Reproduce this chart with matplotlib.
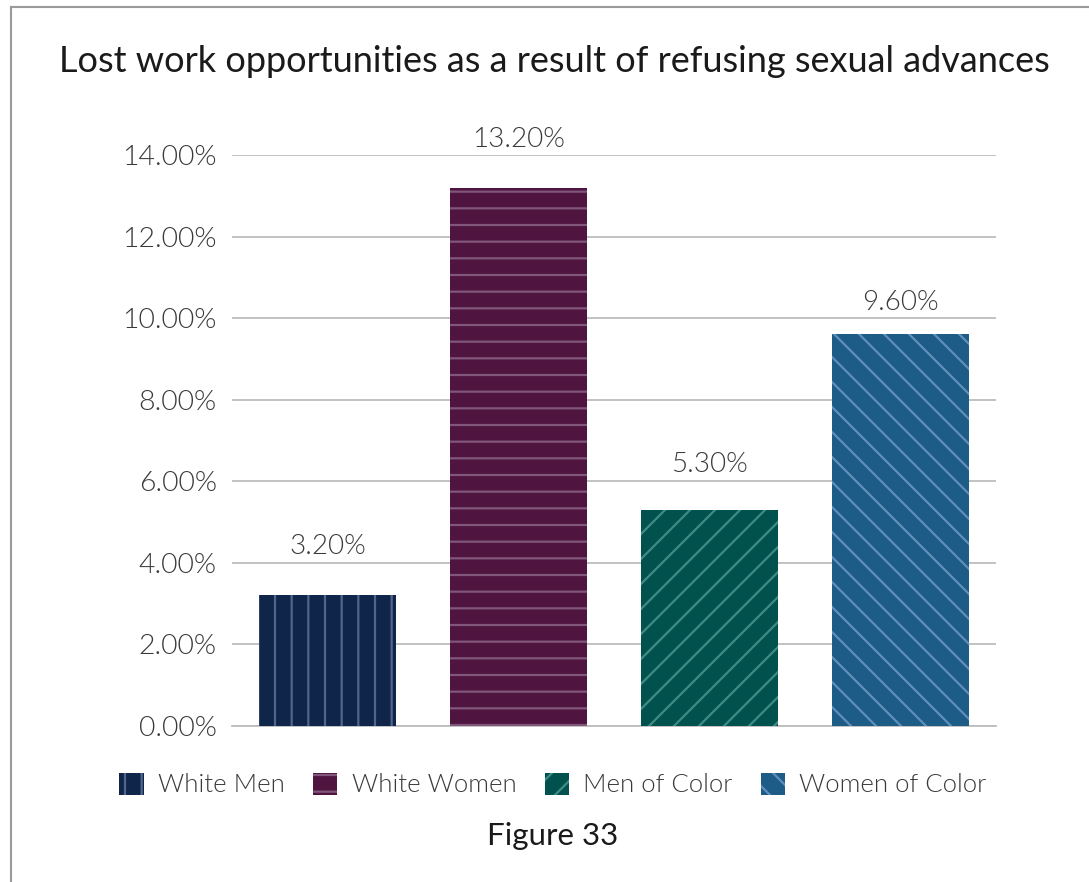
import matplotlib
matplotlib.use("Agg")
import matplotlib.pyplot as plt
import matplotlib.hatch as mhatch
from matplotlib.lines import Line2D
from matplotlib.ticker import FuncFormatter

# ---- data ----
categories = ["White Men", "White Women", "Men of Color", "Women of Color"]
values = [3.20, 13.20, 5.30, 9.60]
bar_colors = ["#0f254a", "#4f143f", "#01524e", "#1e5c88"]
hatch_colors = ["#54648a", "#80567a", "#3f8b85", "#5f8fb8"]
hatches = ["|", "-", "/", "\\"]
yticks = [0, 2, 4, 6, 8, 10, 12, 14]
title = "Lost work opportunities as a result of refusing sexual advances"
caption = "Figure 33"

# denser diagonal hatches (to match reference spacing)
_diag = tuple(getattr(mhatch, n) for n in ("NorthEastHatch", "SouthEastHatch") if hasattr(mhatch, n))

def _make_dense(base):
    class _Dense(base):
        def __init__(self, hatch, density):
            super().__init__(hatch, int(density) * 4 // 3)
    return _Dense

mhatch._hatch_types = [_make_dense(t) if t in _diag else t for t in mhatch._hatch_types]

plt.rcParams["font.family"] = ["Lato", "DejaVu Sans"]
plt.rcParams["hatch.linewidth"] = 1.6

TXT = "#3a3a3a"
fig = plt.figure(figsize=(10.89, 8.82), dpi=100)
ax = fig.add_axes([232 / 1089, 1 - 726 / 882, (996 - 232) / 1089, (726 - 155) / 882])

x = list(range(len(categories)))
bars = ax.bar(x, values, width=0.72, color=bar_colors, edgecolor=hatch_colors,
              linewidth=0, hatch=hatches, zorder=3)
for b, lab in zip(bars, categories):
    b.set_label(lab)

label_offsets = [35, 35, 33, 23]  # points above bar tops
for xi, v, off in zip(x, values, label_offsets):
    ax.annotate(f"{v:.2f}%", (xi, v), xytext=(0, off), textcoords="offset points",
                ha="center", va="center", fontsize=20, fontweight=300, color=TXT)

ax.set_xlim(-0.5, len(categories) - 0.5)
ax.set_ylim(0, 14)
ax.set_yticks(yticks)
ax.yaxis.set_major_formatter(FuncFormatter(lambda v, p: f"{v:.2f}%"))
ax.set_xticks([])
ax.grid(axis="y", color="#bdbdbd", linewidth=1.3, zorder=0)
for s in ["top", "right", "left"]:
    ax.spines[s].set_visible(False)
ax.spines["bottom"].set_color("#bdbdbd")
ax.spines["bottom"].set_linewidth(1.3)
ax.tick_params(axis="y", length=0, pad=11, labelsize=20.5, labelcolor=TXT)
for t in ax.get_yticklabels():
    t.set_fontweight(300)

fig.text(554 / 1089, 1 - 62 / 882, title, ha="center", va="center", fontsize=26, color="#1a1a1a")
fig.text(553 / 1089, 1 - 836 / 882, caption, ha="center", va="center", fontsize=22.5, color="#1a1a1a")

leg = fig.legend(handles=list(bars), labels=categories, ncol=4, loc="center",
                 bbox_to_anchor=(553 / 1089, 1 - 785 / 882), frameon=False,
                 handlelength=0.95, handleheight=0.95, columnspacing=1.1,
                 handletextpad=0.55, prop={"weight": 300, "size": 18.5})
for t in leg.get_texts():
    t.set_color(TXT)

# border lines
fig.add_artist(Line2D([10.5 / 1089, 10.5 / 1089], [0, 1 - 7 / 882], transform=fig.transFigure,
                      color="#9a9a9a", linewidth=1.5))
fig.add_artist(Line2D([10.5 / 1089, 1], [1 - 7 / 882, 1 - 7 / 882], transform=fig.transFigure,
                      color="#9a9a9a", linewidth=1.5))

fig.savefig("out.png", dpi=100, facecolor="white")
